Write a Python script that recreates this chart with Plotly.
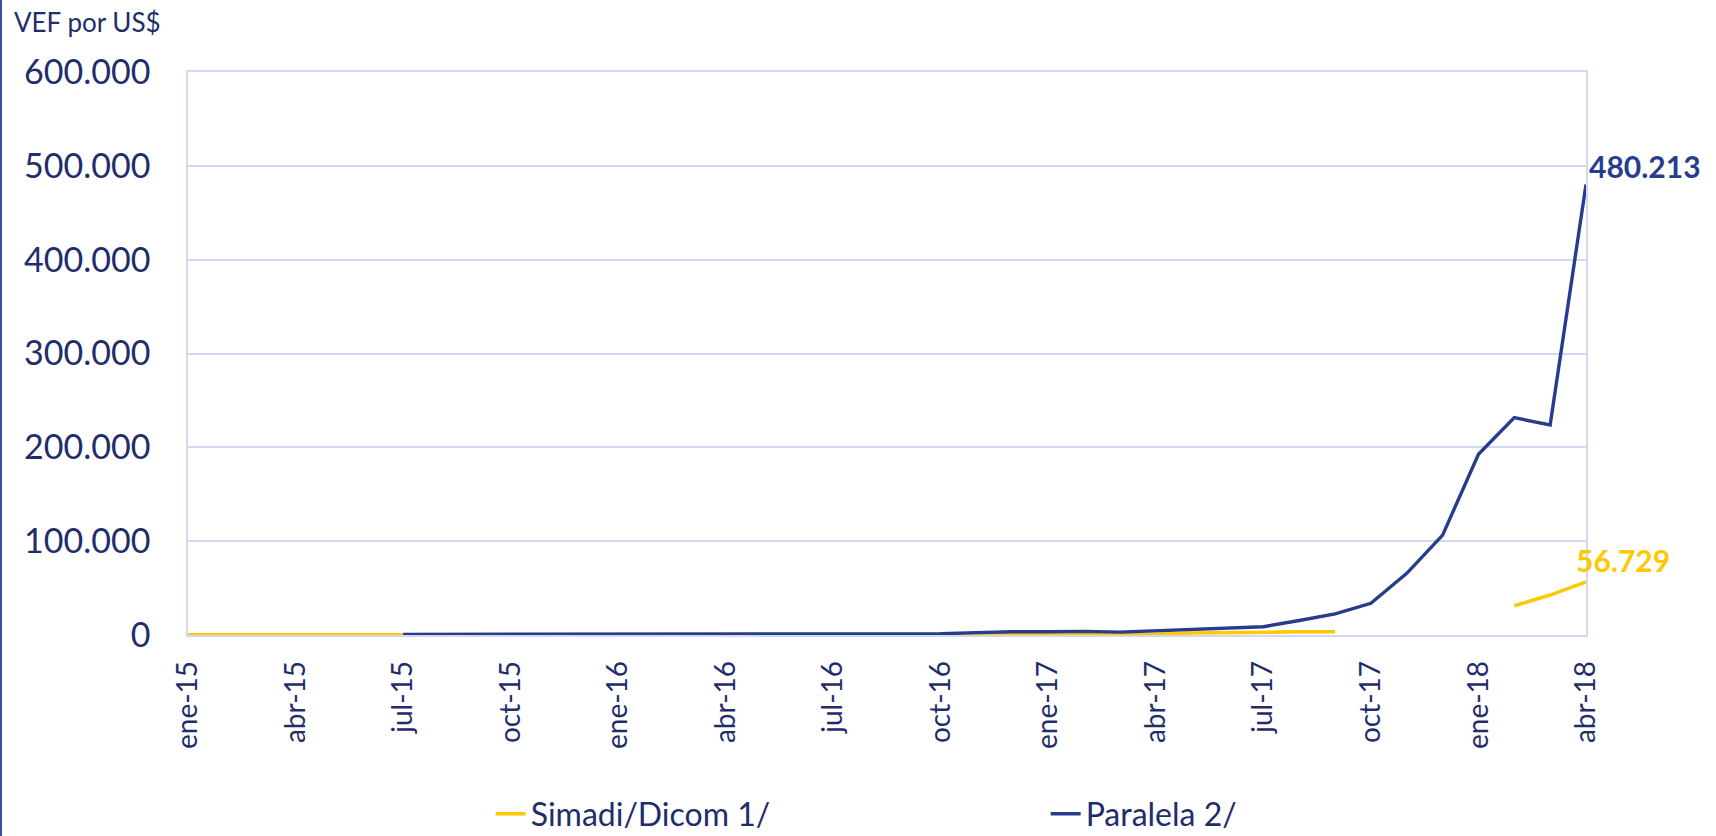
import plotly.graph_objects as go

months_es = ["ene", "feb", "mar", "abr", "may", "jun", "jul", "ago", "sep", "oct", "nov", "dic"]
categories = [f"{m}-{y}" for y in ["15", "16", "17", "18"] for m in months_es][:40]

simadi = [172, 172, 178, 190, 196, 197, 198, 199, 199, 199, 199, 199,
          199, 235, 270, 410, 480, 580, 630, 640, 650, 655, 670, 674,
          690, 705, 712, 725, 2010, 2640, 2820, 3345, 3345,
          None, None, None, None,
          31200, 42600, 56729]

paralela = [None] * 6 + [650, 700, 770, 800, 850, 900,
            1000, 1050, 1150, 1100, 1000, 1050, 1000, 1050, 1100, 1400, 2500, 3500,
            3400, 3900, 3100, 4400, 5500, 7700, 8800, 15500, 22500, 33800, 65700, 106500,
            192600, 231600, 223800, 480213]

tick_labels = categories[::3]

NAVY = "#1F2D6B"
BLUE = "#283C8E"
YELLOW = "#FFC800"
GRID = "#D3D7EF"
FONT = "Lato"

fig = go.Figure()
fig.add_trace(go.Scatter(x=categories, y=simadi, mode="lines", name="Simadi/Dicom 1/",
                         line=dict(color=YELLOW, width=3.5), connectgaps=False))
fig.add_trace(go.Scatter(x=categories, y=paralela, mode="lines", name="Paralela 2/",
                         line=dict(color=BLUE, width=3.4), connectgaps=False))

fig.add_annotation(x=categories[-1], y=paralela[-1], text="<b>480.213</b>", showarrow=False,
                   xanchor="left", yanchor="middle", xshift=1, yshift=18,
                   font=dict(family=FONT, size=30, color=BLUE))
fig.add_annotation(x=categories[-1], y=simadi[-1], text="<b>56.729</b>", showarrow=False,
                   xanchor="left", yanchor="middle", xshift=-12, yshift=22,
                   font=dict(family=FONT, size=30, color=YELLOW))

fig.add_annotation(xref="paper", yref="paper", x=-176 / 1398, y=1 + 50 / 563,
                   text="VEF por US$", showarrow=False, xanchor="left", yanchor="middle",
                   font=dict(family=FONT, size=26, color=NAVY))

fig.add_shape(type="line", xref="paper", yref="paper", x0=-187 / 1398, x1=-187 / 1398,
              y0=-201 / 563, y1=1 + 72 / 563, line=dict(color="#3A4DA8", width=2))

fig.update_layout(
    width=1716, height=836,
    margin=dict(l=188, r=130, t=72, b=201, autoexpand=False),
    paper_bgcolor="white", plot_bgcolor="white",
    separators=",.",
    font=dict(family=FONT, color=NAVY),
    showlegend=True,
    legend=dict(orientation="h", x=0.2165, xanchor="left",
                y=-(814 - 635) / 563, yanchor="middle",
                entrywidth=510, entrywidthmode="pixels",
                font=dict(family=FONT, size=32, color=NAVY), itemwidth=30,
                bgcolor="rgba(0,0,0,0)"),
    xaxis=dict(type="category", range=[0, 39], tickmode="array", tickvals=tick_labels,
               ticktext=tick_labels, tickangle=-90, ticks="", ticklabelstandoff=13,
               tickfont=dict(family=FONT, size=28, color=NAVY), automargin=False,
               showgrid=False, showline=True, linecolor=GRID, linewidth=1.5, mirror=True,
               zeroline=False),
    yaxis=dict(range=[0, 600000], dtick=100000, tickformat=",d", automargin=False,
               tickfont=dict(family=FONT, size=34, color=NAVY), ticklabelstandoff=29,
               showgrid=True, gridcolor=GRID, gridwidth=1.5,
               showline=True, linecolor=GRID, linewidth=1.5, mirror=True, zeroline=False),
)

fig.write_html("out.html", config={"displayModeBar": False},
               post_script="document.body.style.margin='0px';")
